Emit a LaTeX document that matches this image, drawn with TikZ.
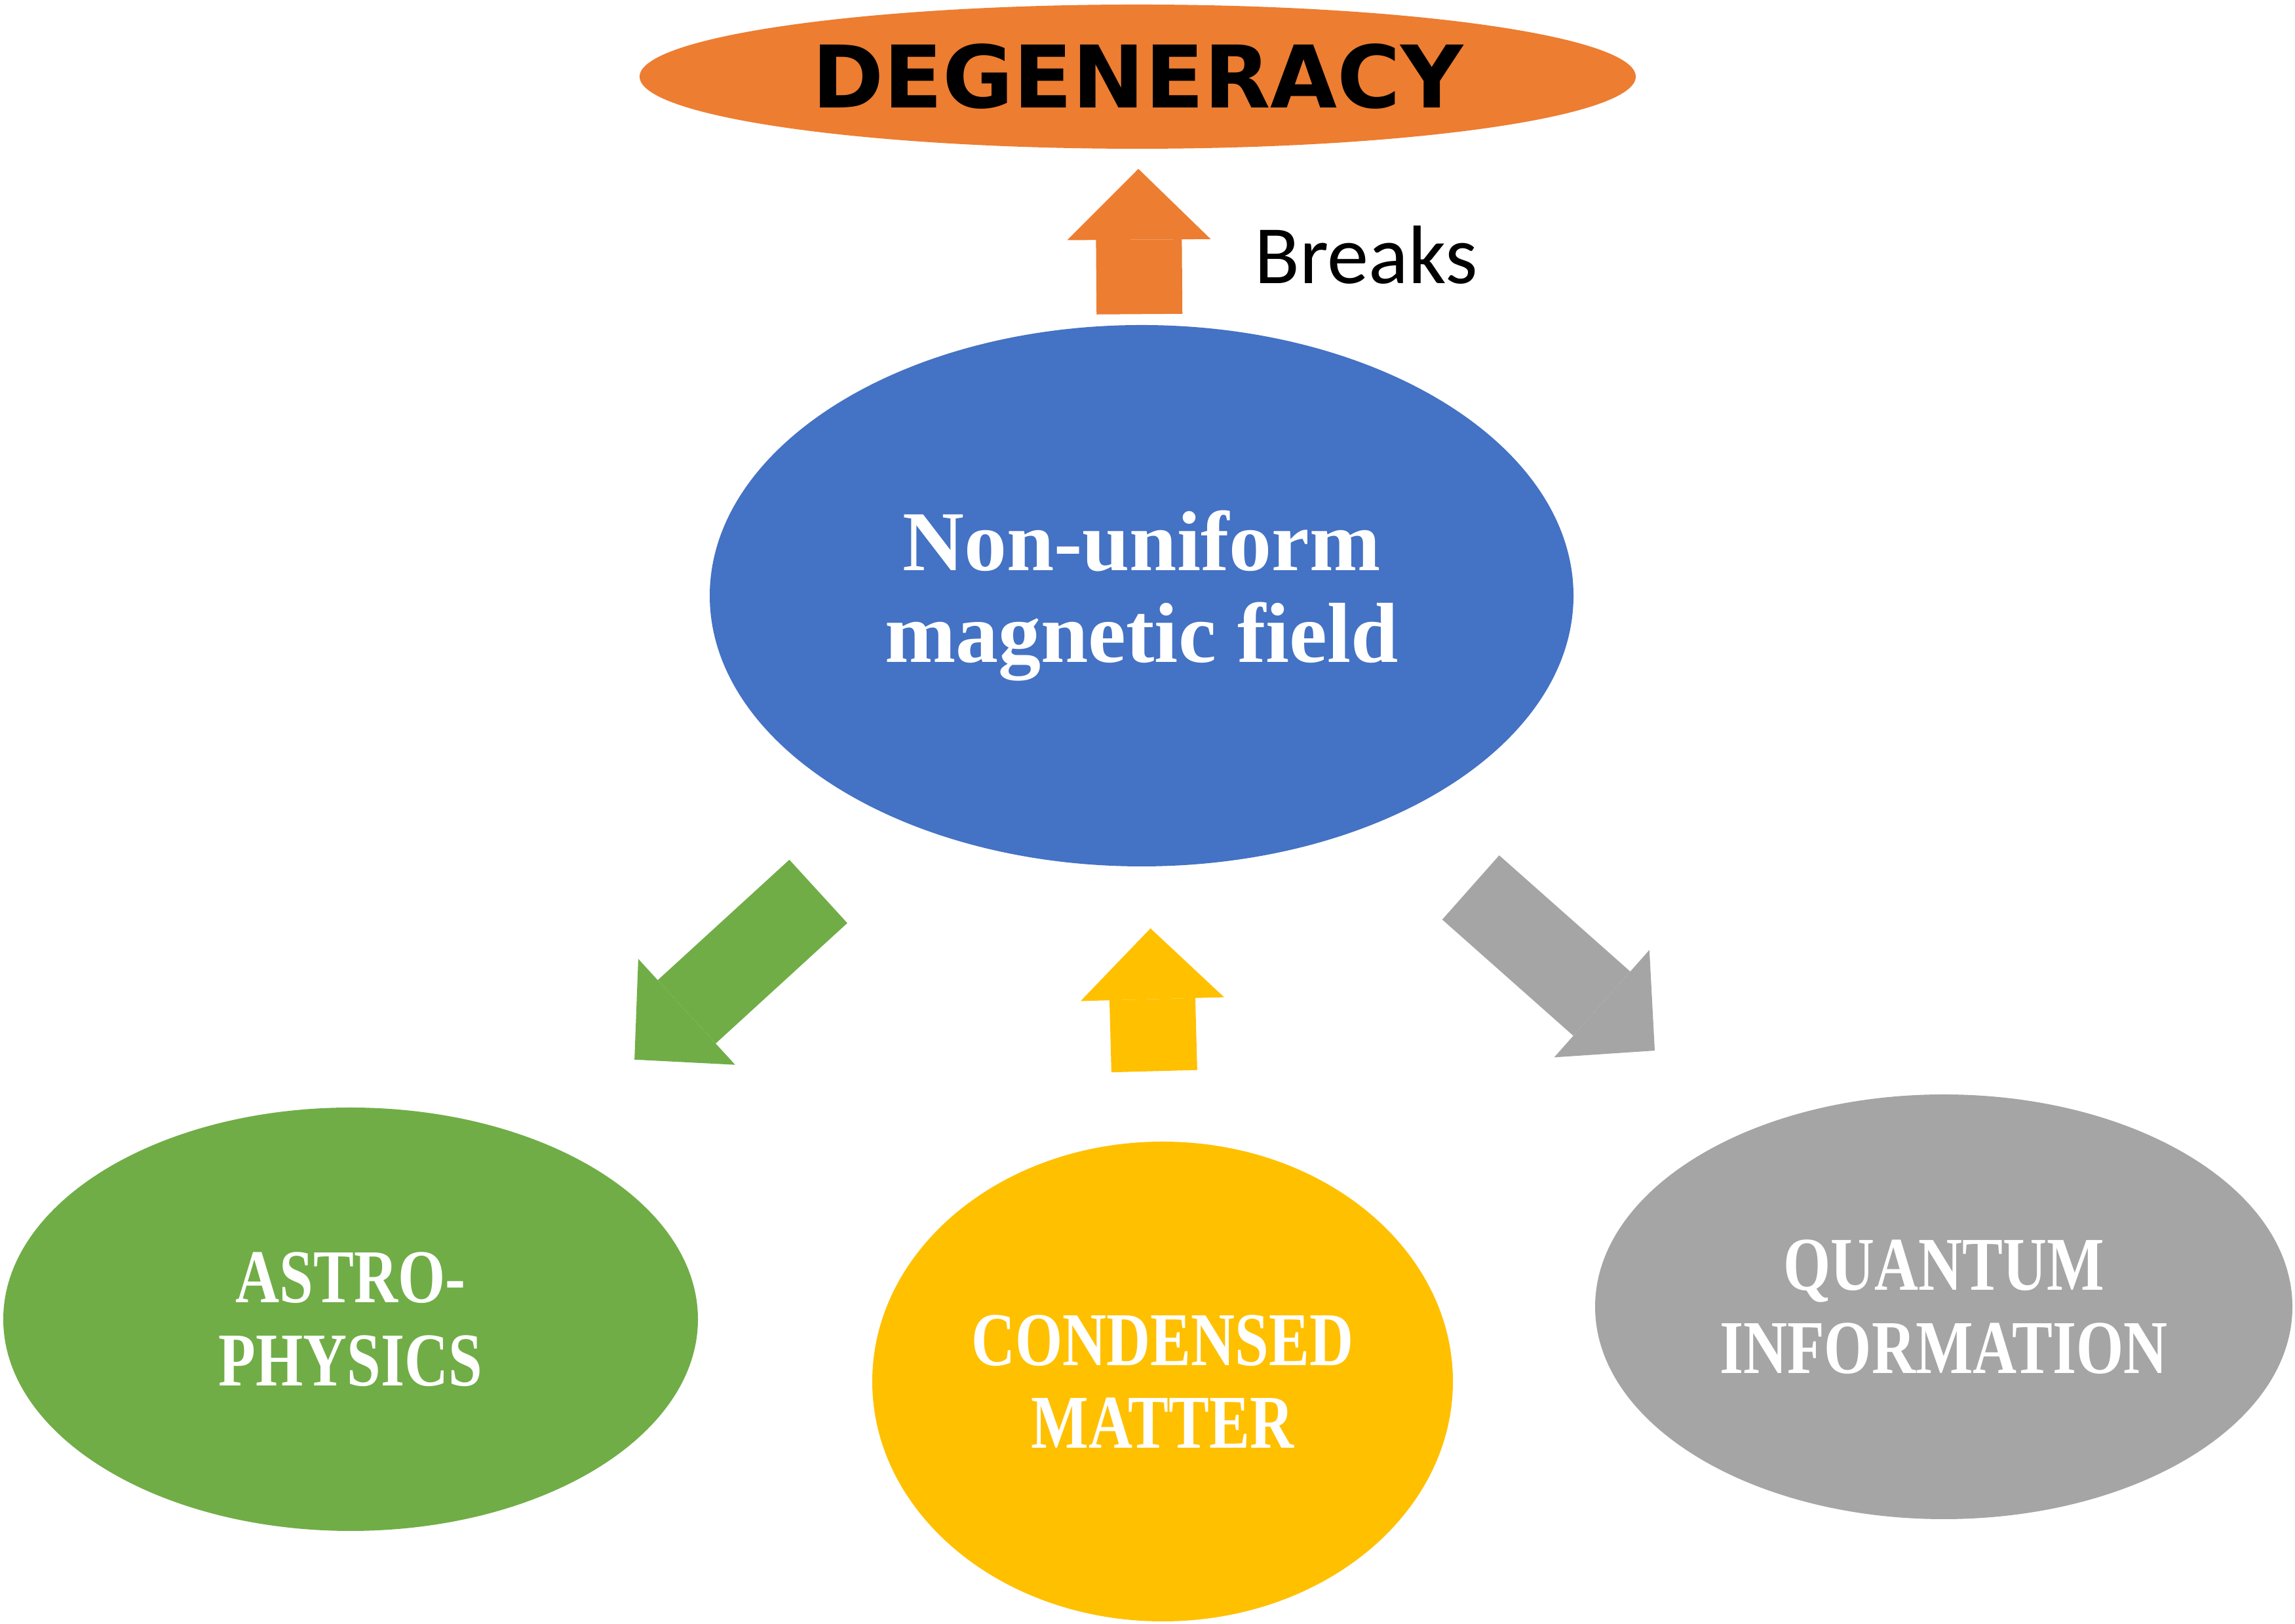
\documentclass[tikz,border=0pt]{standalone}
\usepackage{fontspec}
\usepackage{tikz}
\usepackage{xcolor}
\usetikzlibrary{shapes.geometric, arrows.meta, positioning}

\newfontfamily\heavyfont{DejaVu Sans}
\newfontfamily\breaksfont{Carlito}
\newfontfamily\titlefont{Liberation Serif}
\newfontfamily\fieldfont{Liberation Serif}[FakeStretch=0.8]

\definecolor{degorange}{HTML}{ED7D31}
\definecolor{fieldblue}{HTML}{4472C4}
\definecolor{astrogreen}{HTML}{70AD47}
\definecolor{condyellow}{HTML}{FFC000}
\definecolor{quantgray}{HTML}{A5A5A5}

\begin{document}
\begin{tikzpicture}[
  bubble/.style={ellipse, inner sep=0pt, align=center},
  blockarrow/.style={line width=1.31cm, -{Triangle[length=1.08cm, width=2.19cm, line width=0pt]}},
  fieldlabel/.style={text=white, font=\fieldfont\bfseries\fontsize{33}{36}\selectfont},
]
\useasboundingbox (0,0) rectangle (35.02,24.78);

% --- top: degeneracy ---
\node[bubble, fill=degorange, minimum width=15.2cm, minimum height=2.2cm,
      font=\heavyfont\bfseries\fontsize{37.5}{40}\selectfont] (deg) at (17.36, 23.61) {DEGENERACY};

% --- centre: field ---
\node[bubble, fill=fieldblue, minimum width=13.18cm, minimum height=8.26cm, text=white,
      font=\titlefont\bfseries\fontsize{37}{40}\selectfont] (field) at (17.42, 15.69) {Non-uniform\\magnetic field};

% --- bottom: fields of use ---
\node[bubble, fieldlabel, fill=astrogreen, minimum width=10.6cm, minimum height=6.46cm] (astro) at (5.35, 4.65) {ASTRO-\\PHYSICS};
\node[bubble, fieldlabel, fill=condyellow, minimum width=8.86cm, minimum height=7.32cm] (cond) at (17.74, 3.70) {CONDENSED\\MATTER};
\node[bubble, fieldlabel, fill=quantgray, minimum width=10.64cm, minimum height=6.48cm] (quant) at (29.66, 4.84) {QUANTUM\\INFORMATION};

% --- arrows ---
\draw[blockarrow, draw=degorange, shorten <=0.16cm, shorten >=0.30cm] (field) -- (deg);
\node[anchor=base west, font=\breaksfont\fontsize{36}{40}\selectfont] (breaks) at (19.02, 20.45) {Breaks};

\foreach \src/\dst/\col/\sa/\sb in {
  field/astro/astrogreen/1.63/1.88,
  cond/field/condyellow/1.07/0.94,
  field/quant/quantgray/1.62/1.86}
{
  \draw[blockarrow, draw=\col, shorten <=\sa cm, shorten >=\sb cm] (\src) -- (\dst);
}

\end{tikzpicture}
\end{document}
